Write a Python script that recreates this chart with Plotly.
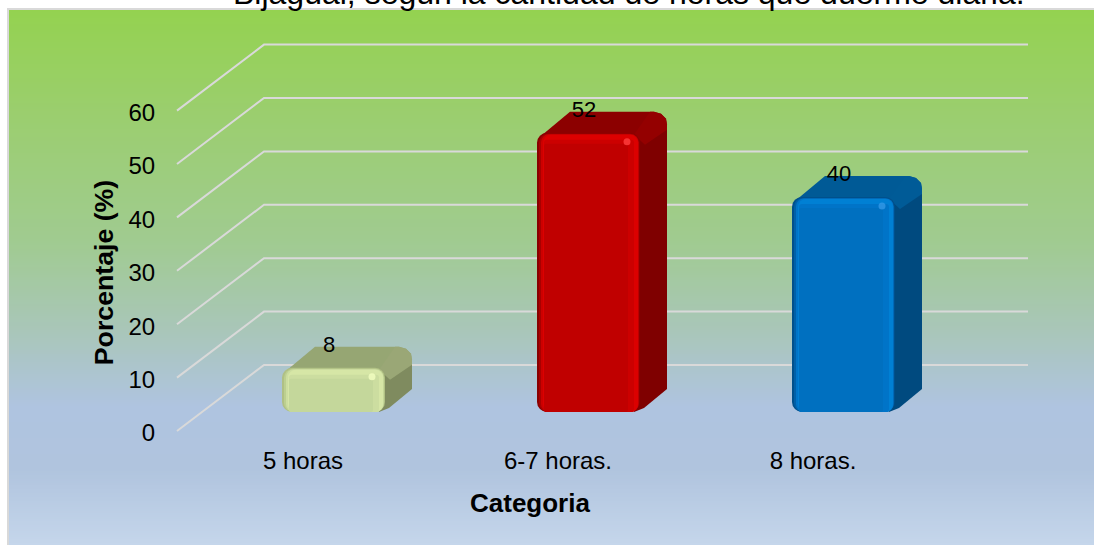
import numpy as np
import plotly.graph_objects as go

# Datos del grafico
categorias = ['5 horas', '6-7 horas.', '8 horas.']
porcentajes = [8, 52, 40]
ticks_y = [0, 10, 20, 30, 40, 50, 60]

titulo = 'Bijagual, según la cantidad de horas que duerme diaria.'
titulo_x = 'Categoria'
titulo_y = 'Porcentaje (%)'

# Colores de cada barra: borde, medio, mezcla, brillo, cuerpo, lado, techo, arista, punto
verde = ['#B0C084', '#BCCF90', '#CCDDA0', '#D6E6A6', '#C4D79B', '#7F8B5F', '#96A673', '#9AA776', '#F2FFC0']
rojo = ['#8A0000', '#A80000', '#CC0000', '#DC0000', '#C00000', '#7F0000', '#8C0000', '#940000', '#FF4040']
azul = ['#00508C', '#0060A8', '#0074C8', '#0080D4', '#0070C0', '#004A7F', '#005A96', '#005B97', '#3399E6']
paletas = [verde, rojo, azul]

# Degradado del fondo (posicion desde arriba, color)
degradado = [
    [0.0, '#94D250'], [0.2, '#9BCE6F'], [0.43, '#A0CB90'], [0.6, '#A9C6B9'],
    [0.74, '#AFC4E0'], [0.86, '#B0C4DE'], [1.0, '#C5D6EB'],
]

ANCHO, ALTO = 1094, 545
# Escala: pixeles por unidad en cada eje
PX_X, PX_Y = 255, 5.34
X0_PX, Y0_PX = 303, 431

rango_x = [-X0_PX / PX_X, (ANCHO - X0_PX) / PX_X]
rango_y = [(Y0_PX - ALTO) / PX_Y, Y0_PX / PX_Y]


def dx(px):
    return px / PX_X


def dy(px):
    return px / PX_Y


fig = go.Figure()

# Fondo degradado
filas = np.linspace(rango_y[0], Y0_PX / PX_Y - dy(10), 270)
z = [[(filas[-1] - f) / (filas[-1] - filas[0])] for f in (filas[:-1] + filas[1:]) / 2]
fig.add_trace(go.Heatmap(
    x=[rango_x[0] + dx(9), rango_x[1]], y=filas, z=z,
    colorscale=degradado, zmin=0, zmax=1, showscale=False, hoverinfo='skip',
))

# Lineas de la reticula: frente, fondo y derecha
for t in ticks_y:
    fig.add_trace(go.Scatter(
        x=[dx(177 - X0_PX), dx(264 - X0_PX), dx(1028 - X0_PX)],
        y=[t, t + dy(66), t + dy(66)],
        mode='lines', line=dict(color='#D9D9D9', width=2),
        showlegend=False, hoverinfo='skip',
    ))

# Las barras estan corridas hacia el fondo
corrido_x = dx(30.5)
corrido_y = dy(19)
extra_top = dy(1.5)
ancho_px = 103


def cara(i, v, puntos, color):
    # puntos en pixeles desde la esquina frontal superior izquierda
    x0 = i + corrido_x - dx(ancho_px / 2)
    y0 = v + corrido_y + extra_top
    fig.add_trace(go.Scatter(
        x=[x0 + dx(p[0]) for p in puntos],
        y=[y0 + dy(p[1]) for p in puntos],
        mode='lines', fill='toself', fillcolor=color, line=dict(width=0),
        showlegend=False, hoverinfo='skip',
    ))


for i, v in enumerate(porcentajes):
    w = ancho_px
    h = v * PX_Y + 1.5
    p = paletas[i]
    # techo
    cara(i, v, [(3, -4), (33, 21), (w + 14, 21), (w + 21, 19), (w + 26, 14), (w + 27, 8), (w + 27, 0), (w, -6)], p[6])
    # lado derecho
    cara(i, v, [(w - 6, -4), (w + 27, 8), (w + 27, 23 - h), (w + 4, -h + 4), (w - 6, -h)], p[5])
    # arista entre techo y lado
    cara(i, v, [(w - 6, -2), (w + 10, 21), (w + 14, 21), (w + 21, 19), (w + 26, 14), (w + 27, 8), (w + 27, 3), (w + 5, -12)], p[7])

# Cara frontal: capas (recorte izq, der, arriba, indice de color)
capas = [(0, 0, 0, 0), (2, 1, 1, 1), (4, 1.5, 1.5, 2), (6, 2, 2, 3), (7, 6, 7, 2), (7, 12, 11, 4)]
for izq, der, arriba, c in capas:
    fig.add_trace(go.Bar(
        x=[i + corrido_x + dx(izq - der) / 2 for i in range(len(categorias))],
        y=[v + extra_top - dy(arriba) for v in porcentajes],
        base=corrido_y,
        width=dx(ancho_px - izq - der),
        marker=dict(color=[p[c] for p in paletas], line=dict(width=0),
                    cornerradius=max(10 - arriba, 2)),
        showlegend=False, hoverinfo='skip',
        xaxis='x2', yaxis='y2',
    ))

# Punto de brillo en la esquina
fig.add_trace(go.Scatter(
    x=[i + corrido_x + dx(ancho_px / 2 - 13) for i in range(len(categorias))],
    y=[v + corrido_y + extra_top - dy(9) for v in porcentajes],
    mode='markers', marker=dict(size=7, color=[p[8] for p in paletas], opacity=0.8),
    showlegend=False, hoverinfo='skip',
    xaxis='x2', yaxis='y2',
))

# Etiquetas de valor
fig.add_trace(go.Scatter(
    x=[i + dx(26) for i in range(len(categorias))],
    y=[v + dy(41.5) for v in porcentajes],
    text=[str(v) for v in porcentajes],
    mode='text', textposition='middle center',
    textfont=dict(family='Liberation Sans', size=22, color='#000000'),
    showlegend=False, hoverinfo='skip',
    xaxis='x2', yaxis='y2',
))

fig.update_layout(
    width=ANCHO,
    height=ALTO,
    barmode='overlay',
    margin=dict(l=0, r=0, t=0, b=0),
    paper_bgcolor='white',
    plot_bgcolor='rgba(0,0,0,0)',
    font=dict(family='Liberation Sans', color='#000000'),
    title=dict(text=titulo, x=233 / ANCHO, xanchor='left', y=0.992, yanchor='bottom',
               font=dict(family='Liberation Sans', size=32, color='#000000')),
    shapes=[dict(type='rect', xref='paper', yref='paper',
                 x0=8 / ANCHO, x1=1.01, y0=-0.01, y1=(ALTO - 9) / ALTO,
                 line=dict(color='#D9D9D9', width=2))],
    annotations=[dict(text='<b>' + titulo_x + '</b>', xref='paper', yref='paper',
                      x=530 / ANCHO, y=(ALTO - 503) / ALTO, showarrow=False,
                      xanchor='center', yanchor='middle',
                      font=dict(family='Liberation Sans', size=26, color='#000000'))],
    xaxis=dict(
        range=rango_x,
        tickvals=list(range(len(categorias))),
        ticktext=categorias,
        anchor='free',
        position=(ALTO - Y0_PX) / ALTO,
        ticks='outside', ticklen=8, tickcolor='rgba(0,0,0,0)',
        tickfont=dict(size=24),
        showgrid=False, zeroline=False, showline=False,
    ),
    yaxis=dict(
        range=rango_y,
        tickvals=ticks_y,
        anchor='free',
        position=177 / ANCHO,
        ticks='outside', ticklen=17, tickcolor='rgba(0,0,0,0)',
        tickfont=dict(size=24),
        ticklabelshift=2,
        showgrid=False, zeroline=False, showline=False,
        title=dict(text='<b>' + titulo_y + '</b>', standoff=6,
                   font=dict(family='Liberation Sans', size=26.7)),
    ),
    # Ejes ocultos encima para que las barras tapen la reticula
    xaxis2=dict(range=rango_x, overlaying='x', visible=False),
    yaxis2=dict(range=rango_y, overlaying='y', visible=False),
)

# Sin el margen del body la figura ocupa toda la ventana
fig.write_html('out.html', config=dict(displayModeBar=False),
               post_script="document.body.style.margin='0';")
